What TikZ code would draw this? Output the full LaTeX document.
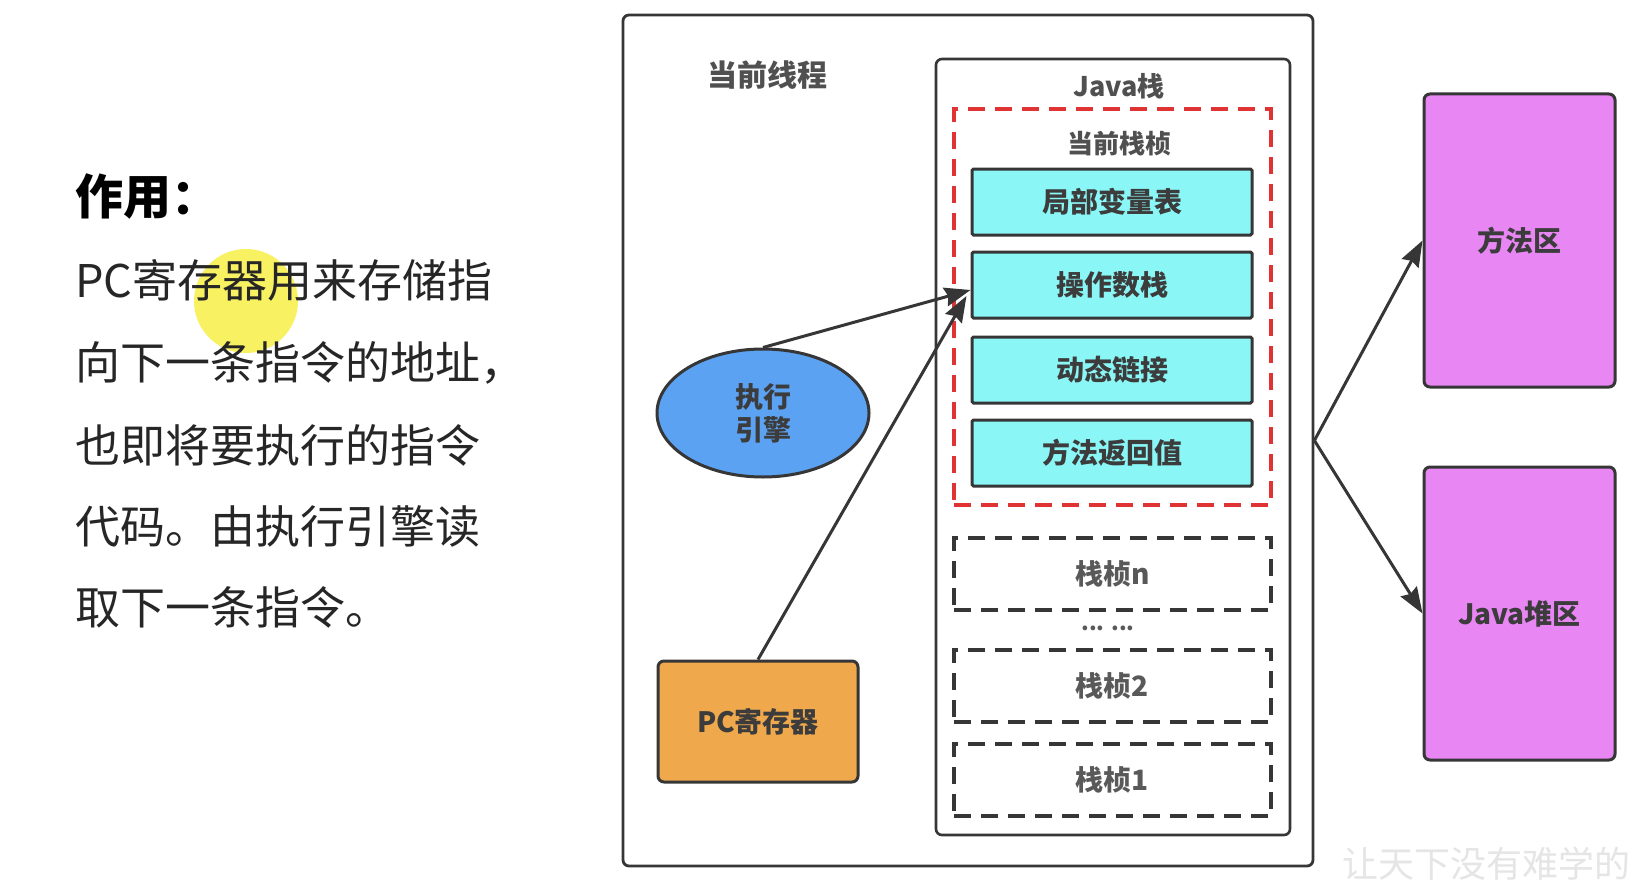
\documentclass[tikz,border=0pt]{standalone}
\usepackage{fontspec}
\setmainfont{Noto Sans CJK SC}
\usetikzlibrary{arrows.meta,shapes.geometric}
\definecolor{cyanfill}{HTML}{8AF6F6}
\definecolor{bluefill}{HTML}{5BA2F2}
\definecolor{orangefill}{HTML}{F0A84C}
\definecolor{purplefill}{HTML}{E886F4}
\definecolor{redline}{HTML}{E03434}
\definecolor{edge}{HTML}{363636}
\definecolor{labeltext}{HTML}{3C3C3C}
\definecolor{hilite}{HTML}{F8F050}
\tikzset{
  frame/.style={draw=edge, line width=2.8pt, rounded corners=6pt, fill=white},
  cyanbox/.style={draw=edge, line width=3pt, rounded corners=1.5pt, fill=cyanfill,
    minimum width=280pt, minimum height=66pt, inner sep=0pt,
    font=\fontsize{28}{32}\selectfont\bfseries, text=labeltext},
  framebox/.style={draw=edge, line width=3.2pt, dash pattern=on 17pt off 10pt,
    minimum width=317pt, minimum height=72pt, inner sep=0pt,
    font=\fontsize{28}{32}\selectfont\bfseries, text=labeltext!85},
  purplebox/.style={draw=edge, line width=3pt, rounded corners=6pt, fill=purplefill,
    minimum width=191pt, minimum height=293pt, inner sep=0pt,
    font=\fontsize{28}{32}\selectfont\bfseries, text=labeltext},
  lbl/.style={inner sep=0pt, font=\fontsize{30}{34}\selectfont\bfseries, text=labeltext!90},
  conn/.style={draw=edge, line width=3pt, -{Stealth[length=26pt,width=19pt,inset=3pt]}},
  body/.style={anchor=west, inner sep=0pt, font=\fontsize{45}{54}\selectfont, text=black!85},
}
\begin{document}
\begin{tikzpicture}[x=1pt,y=-1pt]
\useasboundingbox (0,0) rectangle (1640,880);
\clip (0,0) rectangle (1640,880);
\fill[white] (0,0) rectangle (1640,880);

% left text
\fill[hilite, opacity=0.9] (246,301) circle (52);
\node[body, font=\fontsize{48}{56}\selectfont\bfseries, text=black] (title) at (75,196) {作用：};
\node[body] (l1) at (75,280) {PC寄存器用来存储指};
\node[body] (l2) at (75,363) {向下一条指令的地址，};
\node[body] (l3) at (75,445) {也即将要执行的指令};
\node[body] (l4) at (75,526) {代码。由执行引擎读};
\node[body] (l5) at (75,607) {取下一条指令。};

% outer thread box
\node[frame, minimum width=690pt, minimum height=851pt, inner sep=0pt] (outer) at (968,440.5) {};
\node[lbl] (thread) at (767,75) {当前线程};

% java stack
\node[frame, line width=2.6pt, minimum width=354pt, minimum height=776pt, inner sep=0pt] (jstack) at (1113,447) {};
\node[lbl, font=\fontsize{27}{31}\selectfont\bfseries] (jlbl) at (1119,86) {Java栈};

% current frame
\node[draw=redline, line width=3.2pt, dash pattern=on 17pt off 10pt, minimum width=317pt, minimum height=396pt, inner sep=0pt] (cur) at (1112.5,307) {};
\node[lbl, font=\fontsize{26}{30}\selectfont\bfseries] (curlbl) at (1119,144) {当前栈桢};

\node[cyanbox] (lv) at (1112,202) {局部变量表};
\node[cyanbox] (op) at (1112,285) {操作数栈};
\node[cyanbox] (dl) at (1112,370) {动态链接};
\node[cyanbox] (rv) at (1112,453) {方法返回值};

\node[framebox] (fn) at (1112.5,574) {栈桢n};
\node[inner sep=0pt, font=\fontsize{22}{26}\selectfont\bfseries, text=labeltext!85] (dots) at (1108,628) {... ...};
\node[framebox] (f2) at (1112.5,686) {栈桢2};
\node[framebox] (f1) at (1112.5,780) {栈桢1};

% engine and pc
\node[ellipse, draw=edge, line width=3pt, fill=bluefill, minimum width=212pt, minimum height=128pt, inner sep=0pt,
  font=\fontsize{28}{33}\selectfont\bfseries, text=labeltext, align=center] (eng) at (763,413) {执行\\引擎};
\node[draw=edge, line width=3pt, rounded corners=6pt, fill=orangefill, minimum width=200pt, minimum height=121pt, inner sep=0pt,
  font=\fontsize{28}{32}\selectfont\bfseries, text=labeltext] (pc) at (758,721.5) {PC寄存器};

% right areas
\node[purplebox] (ma) at (1519.5,240.5) {方法区};
\node[purplebox] (heap) at (1519.5,613.5) {Java堆区};

% connectors
\draw[conn] (eng.north) -- ([yshift=-5pt]op.west);
\draw[conn] (pc.north) -- ([xshift=-4pt,yshift=-11pt]op.west);
\draw[conn] (outer.east) -- (ma.west);
\draw[conn] (outer.east) -- (heap.west);

% watermark
\node[anchor=west, inner sep=0pt, font=\fontsize{36}{40}\selectfont, text=black!10] (wm) at (1342,864) {让天下没有难学的};
\end{tikzpicture}
\end{document}
